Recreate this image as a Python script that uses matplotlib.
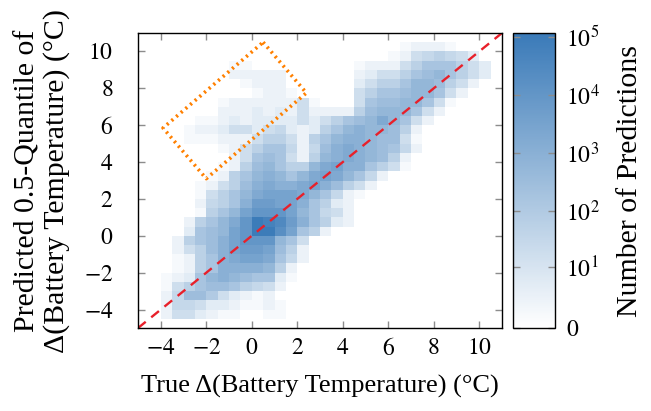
import numpy as np
import matplotlib.pyplot as plt
from matplotlib.colors import LinearSegmentedColormap, FuncNorm
from matplotlib.ticker import FuncFormatter

plt.rcParams['font.family'] = ['Liberation Serif', 'DejaVu Serif']
plt.rcParams['mathtext.fontset'] = 'stix'

# 2D histogram of true vs. predicted delta, 0.5 degC bins
bin_lo, bin_hi, bin_w = -5.0, 11.0, 0.5

# log10(1 + count) in quarter decades, one base-36 digit per bin.
# rows run from the top bin (y = 10.5) down to the bottom bin (y = -5);
# each row starts at bin index first_bin[k] along x
first_bin = [0, 23, 22, 8, 8, 9, 10, 7, 7, 5, 4, 4, 7, 8, 7, 6, 5, 5, 5, 5, 4, 4,
             3, 3, 3, 3, 2, 2, 2, 2, 2, 0]
levels = [
    "",
    "12221",
    "12567653",
    "11000000000122257999753",
    "22222000000235579ab9753",
    "122200000035779bba752",
    "1221000005799abb952",
    "12222225100059aabb951",
    "2223232522227abbb952",
    "11232333353579abdb952",
    "12235535632379bcbba72",
    "1112225775279bccbaa51",
    "125799626acdcba962",
    "259a9527bcdcba72",
    "127ab977bdecc9751",
    "1279bcb9bdedb962",
    "1257acdccdeca752",
    "1579bdeeedb9621",
    "2679cffeec9732",
    "179begggeb9652",
    "279bdgkjifc9732",
    "39abegkkhe972",
    "279acegggb95",
    "257aceffea72",
    "1279cdeed962",
    "1279ccccb72",
    "1239bcba9931",
    "1579aa97652",
    "26aa853212",
    "26653321121",
    "25532110011",
    "",
]

# highlighted region (parallelogram corners)
box_x = [0.5, 2.4, -2.0, -3.9, 0.5]
box_y = [10.5, 7.75, 3.1, 5.85, 10.5]

x_ticks = [-4, -2, 0, 2, 4, 6, 8, 10]
y_ticks = [-4, -2, 0, 2, 4, 6, 8, 10]
cbar_ticks = [0, 1e1, 1e2, 1e3, 1e4, 1e5]
cbar_labels = ['$0$', '$10^{1}$', '$10^{2}$', '$10^{3}$', '$10^{4}$', '$10^{5}$']

edges = np.arange(bin_lo, bin_hi + bin_w / 2, bin_w)
n = len(edges) - 1
counts = np.zeros((n, n))
for k, (c0, row) in enumerate(zip(first_bin, levels)):
    j = n - 1 - k
    for m, ch in enumerate(row):
        counts[j, c0 + m] = 10 ** (int(ch, 36) / 4) - 1
counts = np.ma.masked_less_equal(counts, 0)

cmap = LinearSegmentedColormap.from_list('blues_lin', ['#ffffff', '#3a7ab8'])
norm = FuncNorm((lambda v: np.log10(1 + v), lambda v: 10 ** v - 1),
                vmin=0, vmax=10 ** 5.06 - 1)

fig = plt.figure(figsize=(6.51, 4.11), dpi=100)
ax = fig.add_axes([0.2120, 0.2019, 0.5591, 0.7178])
cax = fig.add_axes([0.7885, 0.2019, 0.0645, 0.7178])

mesh = ax.pcolormesh(edges, edges, counts, cmap=cmap, norm=norm,
                     shading='flat', antialiased=False, linewidth=0)

ax.axline((0, 0), slope=1, color='#e8202a', lw=1.7, ls=(0, (4.2, 3.0)))
ax.plot(box_x, box_y, color='#ff8000', lw=2.6, ls=(0, (0.6, 1.1)),
        dash_capstyle='butt')

ax.set_xlim(bin_lo, bin_hi)
ax.set_ylim(bin_lo, bin_hi)
ax.set_xticks(x_ticks)
ax.set_yticks(y_ticks)
math_fmt = FuncFormatter(lambda v, pos: f'${v:g}$')
ax.xaxis.set_major_formatter(math_fmt)
ax.yaxis.set_major_formatter(math_fmt)
ax.tick_params(direction='in', top=True, right=True, length=5, width=1,
               color='0.55', labelsize=17)
ax.tick_params(axis='x', pad=7)
ax.tick_params(axis='y', pad=18)
for sp in ax.spines.values():
    sp.set_linewidth(1)
ax.set_xlabel('True Δ(Battery Temperature) (°C)', fontsize=19, labelpad=11)
ax.set_ylabel('Predicted 0.5-Quantile of\nΔ(Battery Temperature) (°C)',
              fontsize=21.5, labelpad=10, linespacing=1.12)

cb = fig.colorbar(mesh, cax=cax)
cb.set_ticks(cbar_ticks)
cb.set_ticklabels(cbar_labels)
cb.minorticks_off()
cb.outline.set_linewidth(1)
cax.tick_params(direction='in', left=True, right=True, length=5, width=1,
                color='0.55', labelsize=17, pad=8)
cb.set_label('Number of Predictions', fontsize=21.5, labelpad=12)

fig.savefig('out.png', dpi=100)
